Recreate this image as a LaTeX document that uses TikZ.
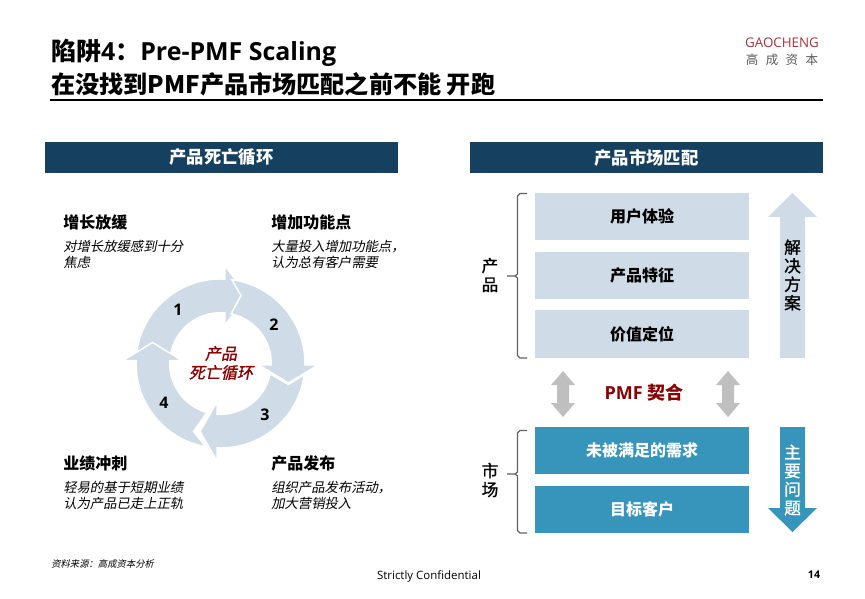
\documentclass[tikz,border=0pt]{standalone}
\usepackage{fontspec}
\setmainfont{Open Sans}
\newfontfamily\cjk{Noto Sans CJK SC}
\newfontfamily\cjkm[FakeBold=1.2]{Noto Sans CJK SC}
\newfontfamily\cjkit[FakeSlant=0.2]{Noto Sans CJK SC}
\newfontfamily\cjkmit[FakeSlant=0.2,FakeBold=1.2]{Noto Sans CJK SC}
\definecolor{navy}{HTML}{16405F}
\definecolor{pale}{HTML}{CFDBE7}
\definecolor{teal}{HTML}{3794BB}
\definecolor{dred}{HTML}{8B0000}
\definecolor{logored}{HTML}{A8343C}
\tikzset{
  ttl/.style={anchor=west,inner sep=0,font=\bfseries\fontsize{18.7}{20}\selectfont},
  bar/.style={fill=navy,text=white,minimum width=264.75pt,minimum height=23.25pt,inner sep=0,font=\cjk\bfseries\fontsize{13}{15}\selectfont},
  head/.style={anchor=west,inner sep=0,font=\cjk\bfseries\fontsize{12}{14}\selectfont},
  desc/.style={anchor=north west,inner sep=0,align=left,font=\cjkit\fontsize{10}{12}\selectfont},
  bx/.style={minimum width=160.5pt,inner sep=0,font=\cjk\bfseries\fontsize{12}{14}\selectfont},
  lightbox/.style={bx,fill=pale},
  tealbox/.style={bx,fill=teal,text=white},
  brace/.style={draw=black!62,line width=.9pt},
  vert/.style={inner sep=0,align=center,font=\cjkm\fontsize{12.5}{14}\selectfont},
  num/.style={inner sep=0,font=\bfseries\fontsize{12}{14}\selectfont},
}
\begin{document}
\begin{tikzpicture}[x=.75pt,y=-.75pt]
\useasboundingbox (0,0) rectangle (865,599);
% title
\node[ttl] (t1) at (51,53) {{\cjk\bfseries 陷阱}4{\cjk\bfseries ：}Pre-PMF Scaling};
\node[ttl] (t2) at (51,84) {\cjk\bfseries\fontsize{18.1}{20}\selectfont 在没找到PMF产品市场匹配之前不能 开跑};
\draw[line width=.9pt] (50,100) -- (823,100);
% logo
\node[inner sep=0,text=logored,font=\fontsize{10}{11}\selectfont] (logo1) at (782,43) {GAOCHENG};
\node[inner sep=0,text=black!65,font=\cjk\fontsize{9.4}{11}\selectfont] (logo2) at (782,60) {高\hspace{5.5pt}成\hspace{5.5pt}资\hspace{5.5pt}本};
% header bars
\node[bar] (barL) at (221.5,157.5) {产品死亡循环};
\node[bar] (barR) at (646.5,157.5) {产品市场匹配};
% left items
\node[head] (h1) at (63,222) {增长放缓};
\node[desc] (d1) at (63,240) {对增长放缓感到十分\\焦虑};
\node[head] (h2) at (271,222) {增加功能点};
\node[desc] (d2) at (271,240) {大量投入增加功能点，\\认为总有客户需要};
\node[head] (h3) at (63,463) {业绩冲刺};
\node[desc] (d3) at (63,481) {轻易的基于短期业绩\\认为产品已走上正轨};
\node[head] (h4) at (271,463) {产品发布};
\node[desc] (d4) at (271,481) {组织产品发布活动，\\加大营销投入};
% ring
\foreach \r/\b/\t/\pb/\pt in {0/4.5/27/1.5/19.5,-90/3/21/4.5/27,-180/3.5/20.5/3/21,-270/1.5/19.5/3.5/20.5}{
  \begin{scope}[shift={(220.5,363.5)},yscale=-1,rotate=\r]
    \pgfmathsetmacro\yo{\pb+.458*(\pt-\pb)}
    \pgfmathsetmacro\yi{\pb+.424*(\pt-\pb)}
    \pgfmathsetmacro\so{atan2(\yo,-83.7)}
    \pgfmathsetmacro\si{atan2(\yi,-50.3)}
    \pgfmathsetmacro\eo{acos(\b/84.5)}
    \pgfmathsetmacro\ei{acos(\b/50.8)}
    \filldraw[fill=pale,draw=white,line width=1.1pt,line join=miter,miter limit=20] (\so:84.5) arc[start angle=\so,end angle=\eo,radius=84.5]
      -- (\b,97.5) -- (\t,68) -- (\b,38.5) -- (\ei:50.8)
      arc[start angle=\ei,end angle=\si,radius=50.8]
      -- (-68,\pt) -- cycle;
  \end{scope}
}
\node[num] (n1) at (178,310) {1};
\node[num] (n2) at (274,325) {2};
\node[num] (n3) at (265,415) {3};
\node[num] (n4) at (164,403) {4};
\node[inner sep=0,align=center,text=dred,font=\cjkmit\fontsize{12}{14.2}\selectfont] (ctr) at (221,363) {产品\\死亡循环};
% right boxes
\node[lightbox,minimum height=35.25pt] (b1) at (642,216.5) {用户体验};
\node[lightbox,minimum height=35.25pt] (b2) at (642,275.5) {产品特征};
\node[lightbox,minimum height=36pt] (b3) at (642,334) {价值定位};
\node[tealbox,minimum height=35.25pt] (b4) at (642,450.5) {未被满足的需求};
\node[tealbox,minimum height=35.25pt] (b5) at (642,509.5) {目标客户};
% braces
\draw[brace] (527,193.5) -- (520,193.5) -- (517.5,196) -- (517.5,274) -- (515,276) -- (507,276) (515,276) -- (517.5,278) -- (517.5,355.5) -- (520,358) -- (527,358);
\draw[brace] (527,430.5) -- (520,430.5) -- (517.5,433) -- (517.5,472) -- (515,474) -- (507,474) (515,474) -- (517.5,476) -- (517.5,530.5) -- (520,533) -- (527,533);
\node[vert,font=\cjkm\fontsize{12.5}{14.2}\selectfont] (lb1) at (490,275) {产\\品};
\node[vert,font=\cjkm\fontsize{12.5}{14.2}\selectfont] (lb2) at (490,480) {市\\场};
% vertical arrows
\fill[pale] (780,358) -- (780,217) -- (768,217) -- (792.5,193) -- (817,217) -- (805,217) -- (805,358) -- cycle;
\node[vert,font=\cjkm\fontsize{12.5}{13.9}\selectfont] (va) at (792.5,275) {解\\决\\方\\案};
\fill[teal] (780,427) -- (805,427) -- (805,508) -- (817,508) -- (792.5,532) -- (768,508) -- (780,508) -- cycle;
\node[vert,text=white,font=\cjkm\fontsize{12.5}{13.9}\selectfont] (vb) at (792.5,480) {主\\要\\问\\题};
% double arrows
\foreach \x in {563,728}{
  \fill[black!25] (\x,371) -- (\x+12,385) -- (\x+6,385) -- (\x+6,403) -- (\x+12,403) -- (\x,417) -- (\x-12,403) -- (\x-6,403) -- (\x-6,385) -- (\x-12,385) -- cycle;
}
\node[inner sep=0,text=dred,font=\bfseries\fontsize{13.5}{14}\selectfont] (pmf) at (644,393) {PMF {\cjk\bfseries 契合}};
% footer
\node[anchor=west,inner sep=0,font=\cjkit\fontsize{7}{9}\selectfont] (src) at (51,564) {资料来源：高成资本分析};
\node[inner sep=0,font=\fontsize{8.6}{10}\selectfont] (conf) at (429,576) {Strictly Confidential};
\node[inner sep=0,font=\bfseries\fontsize{8}{10}\selectfont] (pg) at (814,575) {14};
\end{tikzpicture}
\end{document}
